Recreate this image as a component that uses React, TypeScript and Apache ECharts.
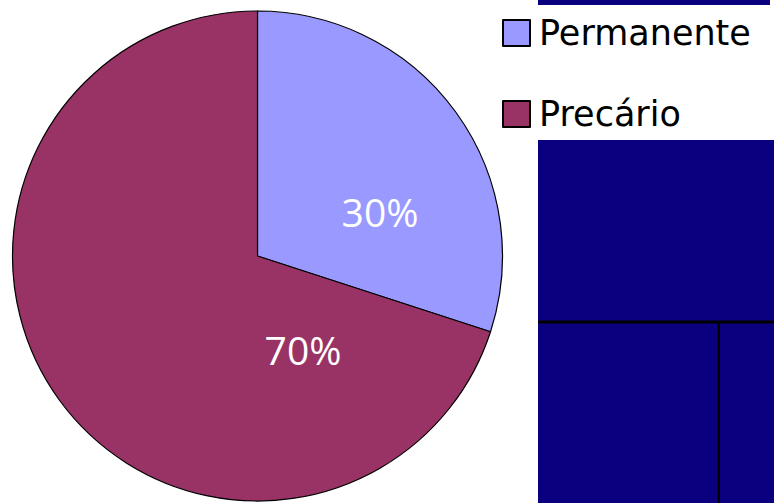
import React, { useEffect, useRef } from "react";
import * as echarts from "echarts";

const categories = ["Permanente", "Precário"];
const values = [30, 70];
const colors = ["#9999FF", "#993366"];

export default function App() {
  const ref = useRef<HTMLDivElement>(null);
  useEffect(() => {
    if (!ref.current) return;
    const chart = echarts.init(ref.current, null, { renderer: "svg" });
    const labelTargets = [
      [380, 211],
      [303, 349],
    ];
    chart.setOption({
      animation: false,
      backgroundColor: "#ffffff",
      legend: {
        orient: "vertical",
        left: 497,
        top: 8,
        icon: "rect",
        itemWidth: 27,
        itemHeight: 26,
        itemGap: 41,
        itemStyle: { borderColor: "#000000", borderWidth: 2 },
        textStyle: {
          fontFamily: "DejaVu Sans",
          fontSize: 35,
          color: "#000000",
          lineHeight: 40,
          padding: [0, 0, 0, 4],
        },
        data: categories,
      },
      graphic: [
        { type: "rect", shape: { x: 538, y: 0, width: 232, height: 5 }, style: { fill: "#0A007F" } },
        { type: "rect", shape: { x: 538, y: 140, width: 236, height: 363 }, style: { fill: "#0A007F" } },
        { type: "rect", shape: { x: 538, y: 320.5, width: 236, height: 3 }, style: { fill: "#000000" } },
        { type: "rect", shape: { x: 717.5, y: 322, width: 2.5, height: 181 }, style: { fill: "#000000" } },
      ],
      series: [
        {
          type: "pie",
          center: [257.5, 256],
          radius: 245,
          startAngle: 90,
          clockwise: true,
          itemStyle: { borderColor: "#000000", borderWidth: 1.2 },
          label: {
            show: true,
            position: "inside",
            formatter: "{c}%",
            color: "#ffffff",
            fontFamily: "Open Sans",
            fontSize: 39,
          },
          labelLayout: (params: any) => {
            const t = labelTargets[params.dataIndex];
            return { x: t[0], y: t[1], align: "center", verticalAlign: "middle" };
          },
          labelLine: { show: false },
          emphasis: { disabled: true },
          data: categories.map((name, i) => ({
            name,
            value: values[i],
            itemStyle: { color: colors[i] },
          })),
        },
      ],
    });
    return () => chart.dispose();
  }, []);
  return (
    <div
      ref={ref}
      style={{ position: "fixed", left: 0, top: 0, width: 774, height: 503 }}
    />
  );
}
